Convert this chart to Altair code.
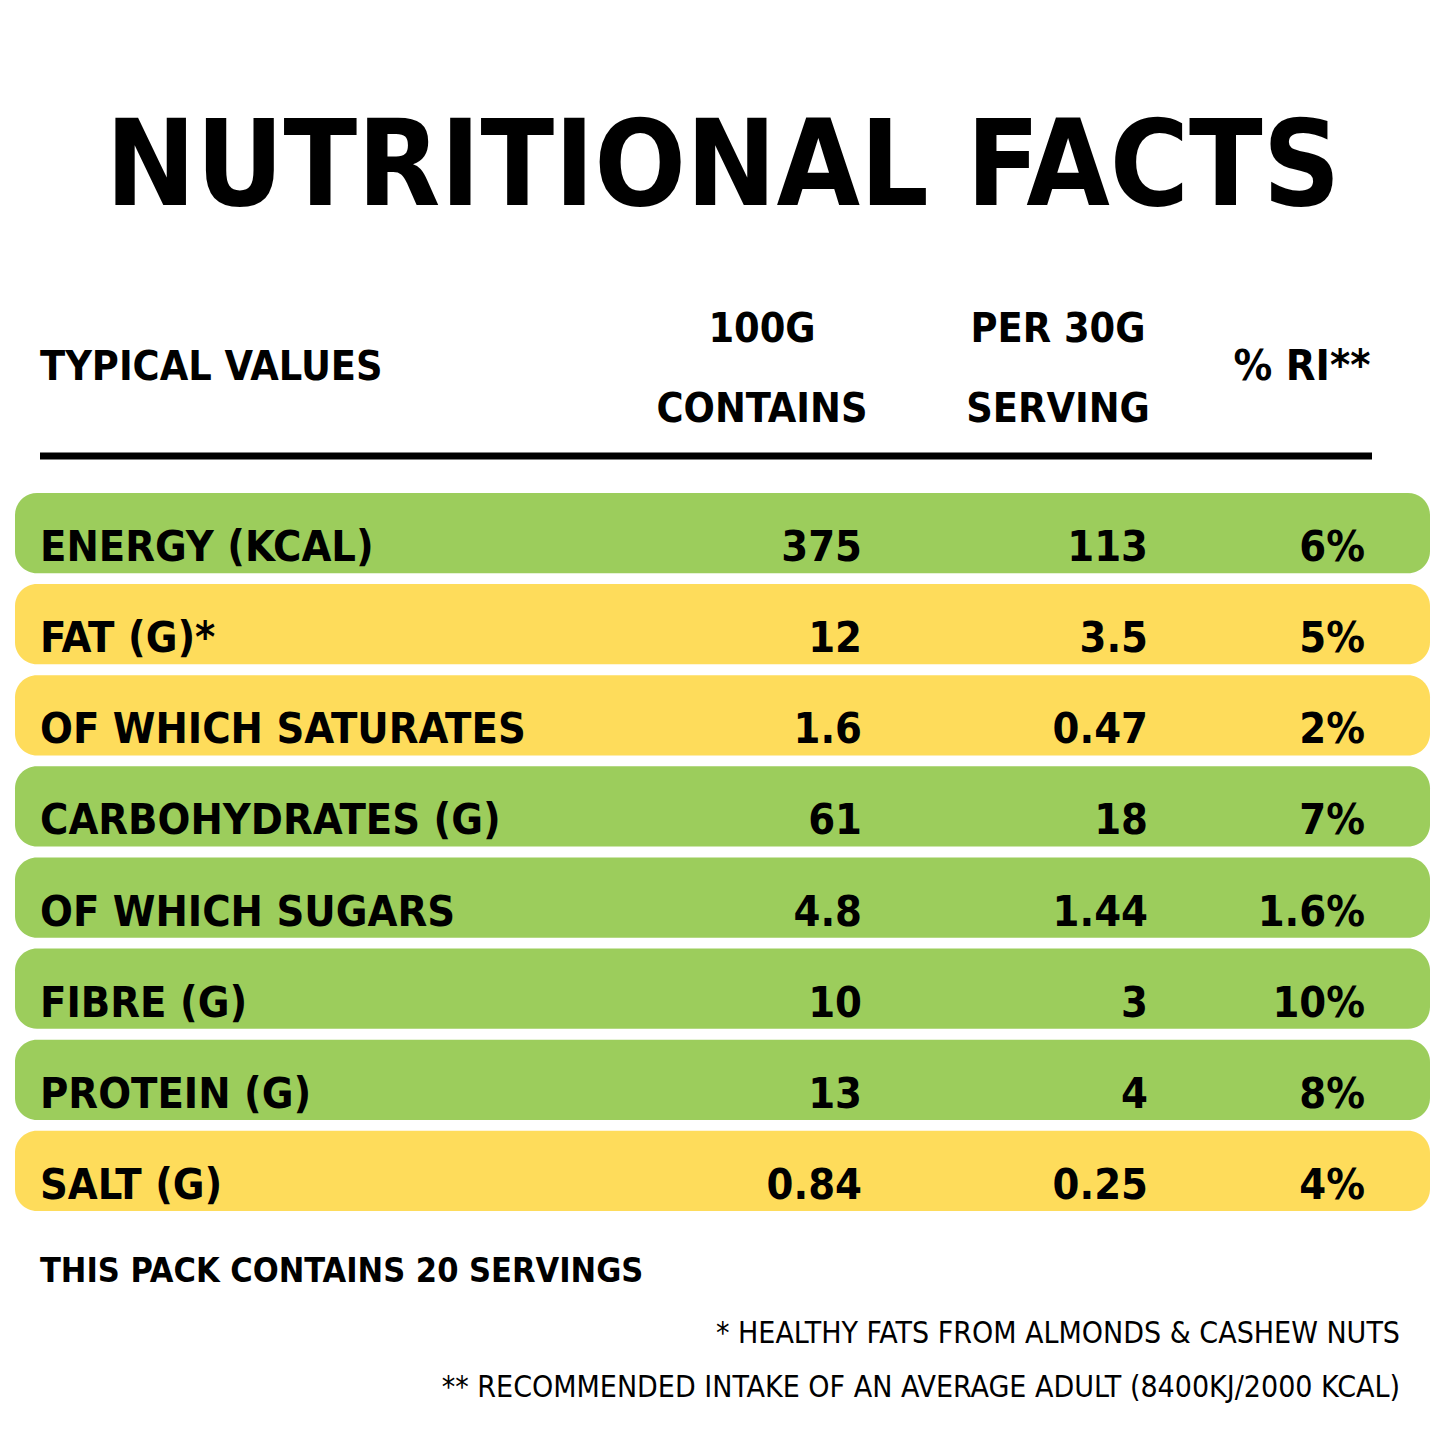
import altair as alt
import pandas as pd

# ---------------- data ----------------
title_text = "NUTRITIONAL FACTS"
header_first = "TYPICAL VALUES"
header_cols_line1 = ["100G", "PER 30G"]
header_cols_line2 = ["CONTAINS", "SERVING"]
header_ri = "% RI**"
nutrients = ["ENERGY (KCAL)", "FAT (G)*", "OF WHICH SATURATES", "CARBOHYDRATES (G)",
             "OF WHICH SUGARS", "FIBRE (G)", "PROTEIN (G)", "SALT (G)"]
per_100g = ["375", "12", "1.6", "61", "4.8", "10", "13", "0.84"]
per_serving = ["113", "3.5", "0.47", "18", "1.44", "3", "4", "0.25"]
ri_pct = ["6%", "5%", "2%", "7%", "1.6%", "10%", "8%", "4%"]
band = ["green", "yellow", "yellow", "green", "green", "green", "green", "yellow"]
servings_note = "THIS PACK CONTAINS 20 SERVINGS"
footnotes = ["* HEALTHY FATS FROM ALMONDS & CASHEW NUTS",
             "** RECOMMENDED INTAKE OF AN AVERAGE ADULT (8400KJ/2000 KCAL)"]

FONT = "DejaVu Sans Condensed"
W = H = 1429

rows = pd.DataFrame({
    "row": list(range(len(nutrients))), "label": nutrients, "band": band,
    "c100": per_100g, "serv": per_serving, "ri": ri_pct,
})

yscale = alt.Scale(domain=list(range(8)), range=[485, 1203], paddingInner=0.12, paddingOuter=0)
ycat = alt.Y("row:O", scale=yscale, axis=None)

bars = alt.Chart(rows).mark_rect(cornerRadius=22).encode(
    y=ycat,
    x=alt.value(7), x2=alt.value(1422),
    color=alt.Color("band:N", scale=alt.Scale(domain=["green", "yellow"], range=["#9ccd5c", "#fedc5b"]), legend=None),
)

def rowtext(field, x, align):
    return alt.Chart(rows).mark_text(align=align, baseline="alphabetic", dy=28, font=FONT,
                                     fontSize=43, fontWeight="bold", color="#000").encode(
        y=ycat, x=alt.value(x), text=f"{field}:N")

labels = rowtext("label", 32, "left")
v1 = rowtext("c100", 854, "right")
v2 = rowtext("serv", 1140, "right")
v3 = rowtext("ri", 1357, "right")

def txt(t, x, y, size, align="left", weight="bold"):
    return alt.Chart(pd.DataFrame({"t": [t]})).mark_text(
        align=align, baseline="alphabetic", font=FONT, fontSize=size, fontWeight=weight, color="#000"
    ).encode(x=alt.value(x), y=alt.value(y), text="t:N")

title = txt(title_text, 715, 197, 120, align="center")
h0 = txt(header_first, 32, 372, 41)
h1a = txt(header_cols_line1[0], 754, 334, 41, align="center")
h1b = txt(header_cols_line2[0], 754, 414, 41, align="center")
h2a = txt(header_cols_line1[1], 1050, 334, 41, align="center")
h2b = txt(header_cols_line2[1], 1050, 414, 41, align="center")
h3 = txt(header_ri, 1294, 372, 43, align="center")

rule = alt.Chart(pd.DataFrame({"a": [0]})).mark_rule(color="#000", strokeWidth=7).encode(
    x=alt.value(32), x2=alt.value(1364), y=alt.value(448))

f0 = txt(servings_note, 32, 1274, 34)
f1 = txt(footnotes[0], 1392, 1335, 30, align="right", weight="normal")
f2 = txt(footnotes[1], 1392, 1389, 30, align="right", weight="normal")

chart = alt.layer(bars, labels, v1, v2, v3, title, h0, h1a, h1b, h2a, h2b, h3, rule, f0, f1, f2).properties(
    width=W, height=H, autosize=alt.AutoSizeParams(type="none"), padding=0
).configure_view(stroke=None)

chart.save("out.html", embed_options={"renderer": "svg", "actions": False})
